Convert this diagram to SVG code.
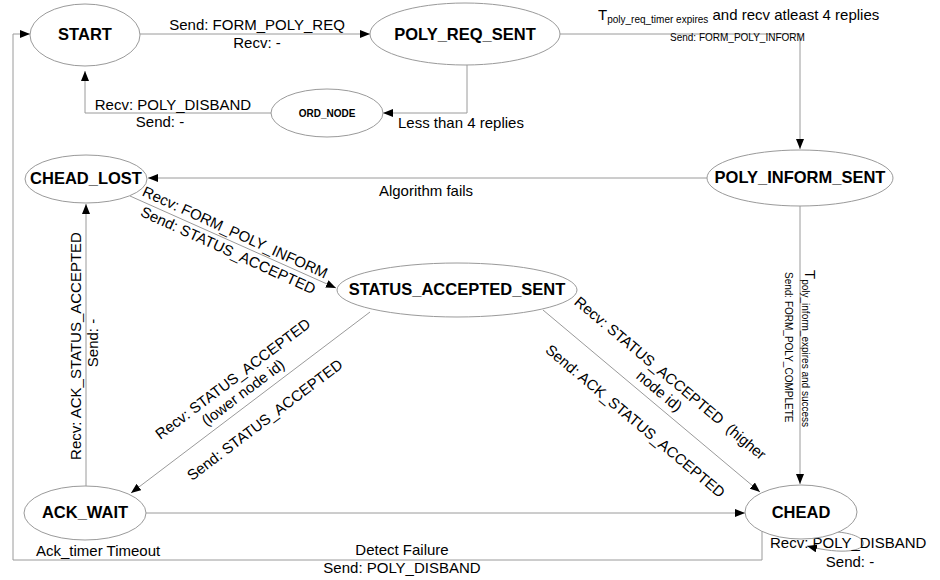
<svg xmlns="http://www.w3.org/2000/svg" width="940" height="580" viewBox="0 0 940 580">
<defs>
<style>
.n{fill:#fff;stroke:#9a9a9a;stroke-width:1}
.c{fill:none;stroke:#9a9a9a;stroke-width:1}
.nt{font-family:"Liberation Sans",Arial,sans-serif;font-weight:bold;font-size:16.5px;text-anchor:middle;fill:#000}
.t{font-family:"Liberation Sans",Arial,sans-serif;font-size:15px;fill:#000}
.s{font-family:"Liberation Sans",Arial,sans-serif;font-size:10px;fill:#000}
.m{text-anchor:middle}
</style>
<marker id="arr" viewBox="0 0 10 8" refX="10" refY="4" markerWidth="10" markerHeight="8" orient="auto" markerUnits="userSpaceOnUse"><path d="M0,0 L10,4 L0,8 z" fill="#000"/></marker>
</defs>
<rect width="940" height="580" fill="#fff"/>
<g id="connectors">
<path class="c" d="M140,34 H370" marker-end="url(#arr)"/>
<path class="c" d="M467,65 V113 H383" marker-end="url(#arr)"/>
<path class="c" d="M272,113 H85 V71" marker-end="url(#arr)"/>
<path class="c" d="M559,34 H800 V149" marker-end="url(#arr)"/>
<path class="c" d="M707,178 H148" marker-end="url(#arr)"/>
<path class="c" d="M130,196 L336,288" marker-end="url(#arr)"/>
<path class="c" d="M370,312 L131,493" marker-end="url(#arr)"/>
<path class="c" d="M543,310 L760,492" marker-end="url(#arr)"/>
<path class="c" d="M800,206 V484" marker-end="url(#arr)"/>
<path class="c" d="M86,486 V204" marker-end="url(#arr)"/>
<path class="c" d="M146,513 H745" marker-end="url(#arr)"/>
<path class="c" d="M762,531 V560 H13 V34 H30" marker-end="url(#arr)"/>
<path class="c" d="M838,532 C880,536 870,562 807,546" marker-end="url(#arr)"/>
</g>
<g id="labels">
<text class="t m" x="257" y="30">Send: FORM_POLY_REQ</text>
<text class="t m" x="257" y="48">Recv: -</text>
<text class="t m" x="173" y="110">Recv: POLY_DISBAND</text>
<text class="t m" x="160" y="127">Send: -</text>
<text class="t" x="398" y="128">Less than 4 replies</text>
<text class="t" x="598" y="20">T<tspan font-size="10" dy="3">poly_req_timer expires</tspan><tspan dy="-3"> and recv atleast 4 replies</tspan></text>
<text class="s" x="670" y="41">Send: FORM_POLY_INFORM</text>
<text class="t m" x="426" y="196">Algorithm fails</text>
<text class="t m" transform="translate(233,237) rotate(24.5)">Recv: FORM_POLY_INFORM</text>
<text class="t m" transform="translate(226,255) rotate(24.5)">Send: STATUS_ACCEPTED</text>
<g transform="translate(236,383) rotate(-37)"><text class="t m" x="0" y="0">Recv: STATUS_ACCEPTED</text><text class="t m" x="0" y="17">(lower node id)</text></g>
<text class="t m" transform="translate(268,424) rotate(-37)">Send: STATUS_ACCEPTED</text>
<g transform="translate(667,382) rotate(40)"><text class="t m" x="0" y="0">Recv: STATUS_ACCEPTED&#160; (higher</text><text class="t m" x="0" y="17">node id)</text></g>
<text class="t m" transform="translate(632,425) rotate(40)">Send: ACK_STATUS_ACCEPTED</text>
<text class="t" transform="translate(805,270) rotate(90)">T<tspan font-size="10" dy="3">poly_inform_expires and success</tspan></text>
<text class="s" transform="translate(785,272) rotate(90)">Send: FORM_POLY_COMPLETE</text>
<text class="t m" transform="translate(81,346) rotate(-90)">Recv: ACK_STATUS_ACCEPTED</text>
<text class="t m" transform="translate(98,343) rotate(-90)">Send: -</text>
<text class="t" x="36" y="556">Ack_timer Timeout</text>
<text class="t m" x="402" y="555">Detect Failure</text>
<text class="t m" x="402" y="573">Send: POLY_DISBAND</text>
<text class="t" x="770" y="548">Recv: POLY_DISBAND</text>
<text class="t m" x="850" y="567">Send: -</text>
</g>
<g id="START"><ellipse class="n" cx="85" cy="35" rx="55" ry="31"/><text class="nt" x="85" y="40">START</text></g>
<g id="POLY_REQ_SENT"><ellipse class="n" cx="465" cy="34" rx="95" ry="31"/><text class="nt" x="465" y="40">POLY_REQ_SENT</text></g>
<g id="ORD_NODE"><ellipse class="n" cx="327" cy="113" rx="56" ry="24"/><text class="nt" x="327" y="117" style="font-size:10px">ORD_NODE</text></g>
<g id="POLY_INFORM_SENT"><ellipse class="n" cx="800" cy="178" rx="93" ry="28"/><text class="nt" x="800" y="183">POLY_INFORM_SENT</text></g>
<g id="CHEAD_LOST"><ellipse class="n" cx="86" cy="179" rx="61" ry="24"/><text class="nt" x="86" y="184">CHEAD_LOST</text></g>
<g id="STATUS_ACCEPTED_SENT"><ellipse class="n" cx="457" cy="290" rx="120" ry="27"/><text class="nt" x="457" y="295">STATUS_ACCEPTED_SENT</text></g>
<g id="ACK_WAIT"><ellipse class="n" cx="85" cy="513" rx="61" ry="27"/><text class="nt" x="85" y="518">ACK_WAIT</text></g>
<g id="CHEAD"><ellipse class="n" cx="801" cy="512" rx="56" ry="27"/><text class="nt" x="801" y="518">CHEAD</text></g>
</svg>
